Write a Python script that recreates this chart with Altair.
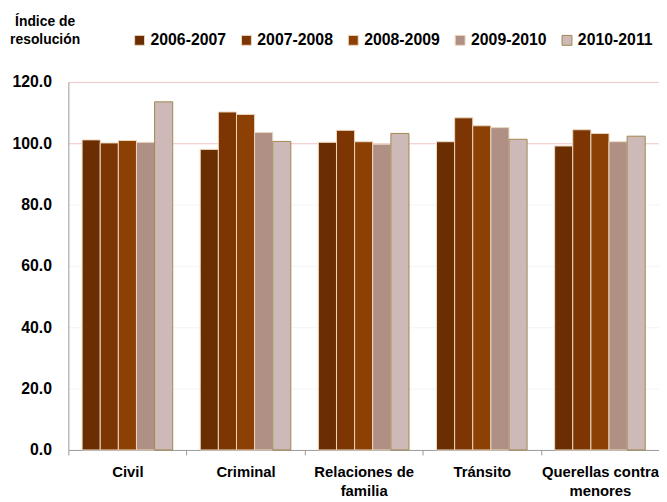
import altair as alt
import pandas as pd

categories = ["Civil", "Criminal", "Relaciones de\nfamilia", "Tránsito", "Querellas contra\nmenores"]
years = ["2006-2007", "2007-2008", "2008-2009", "2009-2010", "2010-2011"]
values = {
    "2006-2007": [101.1, 98.0, 100.3, 100.5, 99.1],
    "2007-2008": [100.1, 110.2, 104.2, 108.3, 104.4],
    "2008-2009": [100.9, 109.4, 100.5, 105.7, 103.2],
    "2009-2010": [100.3, 103.5, 99.7, 105.1, 100.5],
    "2010-2011": [113.5, 100.6, 103.2, 101.3, 102.3],
}
fill_colors = ["#6B2D02", "#7D3603", "#8C4004", "#B08F84", "#CDB9B7"]
stroke_colors = ["#EAD9C0", "#EAD9C0", "#EAD9C0", "#EAD9C0", "#A08850"]

rows = []
for y in years:
    for c, v in zip(categories, values[y]):
        rows.append({"cat": c, "year": y, "value": v})
df = pd.DataFrame(rows)

FONT = "Liberation Sans, Arial, sans-serif"

chart = alt.Chart(df).mark_bar(strokeWidth=1).encode(
    x=alt.X("cat:N", sort=categories, title=None,
            scale=alt.Scale(paddingInner=0, paddingOuter=0),
            axis=alt.Axis(labelAngle=0, labelExpr="split(datum.label, '\\n')",
                          labelFont=FONT, labelFontSize=15, labelFontWeight="bold",
                          labelColor="black", labelPadding=10, labelLineHeight=19,
                          tickBand="extent", tickColor="#999999", tickSize=5,
                          domainColor="#999999", grid=False)),
    xOffset=alt.XOffset("year:N", sort=years,
                        scale=alt.Scale(paddingOuter=0.76, paddingInner=0)),
    y=alt.Y("value:Q", scale=alt.Scale(domain=[0, 120], nice=False),
            axis=alt.Axis(values=[0, 20, 40, 60, 80, 100, 120], format=".1f",
                          labelFont=FONT, labelFontSize=16, labelFontWeight="bold",
                          labelColor="black", labelPadding=17, ticks=False,
                          domainColor="#999999",
                          gridColor={"condition": {"test": "datum.value >= 100", "value": "#EFC4C4"},
                                     "value": "#F4F4F4"},
                          title=["Índice de", "resolución"], titleAngle=0,
                          titleAlign="center", titleBaseline="top",
                          titleX=-24, titleY=-68, titleFont=FONT,
                          titleFontSize=14, titleFontWeight="bold",
                          titleLineHeight=18, titleColor="black")),
    color=alt.Color("year:N", sort=years, scale=alt.Scale(domain=years, range=fill_colors),
                    legend=alt.Legend(title=None, orient="none", direction="horizontal",
                                      legendX=64, legendY=-50, columns=5,
                                      symbolType="square", symbolSize=100,
                                      symbolStrokeWidth=1,
                                      labelFont=FONT, labelFontSize=16,
                                      labelFontWeight="bold", labelColor="black",
                                      labelOffset=3, columnPadding=12)),
    stroke=alt.Stroke("year:N", sort=years, scale=alt.Scale(domain=years, range=stroke_colors)),
).properties(
    width=597, height=372,
    autosize=alt.AutoSizeParams(type="none"),
    padding={"left": 61, "top": 72, "right": 0, "bottom": 60},
).configure_view(stroke=None)

chart.save("out.html", embed_options={"renderer": "svg", "actions": False})
